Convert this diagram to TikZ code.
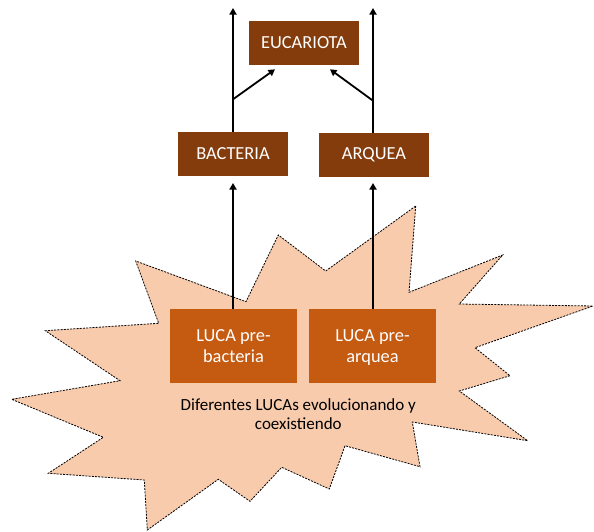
\documentclass[tikz,border=0pt]{standalone}
\usepackage{fontspec}
\setmainfont{Carlito}
\usetikzlibrary{arrows.meta}
\definecolor{darkbrown}{HTML}{843C0C}
\definecolor{lucaorange}{HTML}{C55A11}
\definecolor{burstfill}{HTML}{F8CBAD}
\begin{document}
\begin{tikzpicture}[x=1pt,y=-1pt,
  topbox/.style={fill=darkbrown,text=white,minimum width=110pt,minimum height=44pt,inner sep=0pt,font=\fontsize{18.4}{21.7}\selectfont},
  lucabox/.style={fill=lucaorange,text=white,minimum width=127pt,minimum height=74pt,inner sep=0pt,align=center,font=\fontsize{18.4}{21.7}\selectfont},
  burst/.style={draw=black,line width=0.8pt,dash pattern=on 2pt off 1.2pt,fill=burstfill},
  conn/.style={draw=black,line width=1.8pt,-{Triangle[length=6.5pt,width=7pt]}},
  plain/.style={draw=black,line width=1.8pt}]
\useasboundingbox (0,0) rectangle (594,531);
% starburst
\path[burst] (415.7,206) -- (409,292.3) -- (502.7,255) -- (459.3,304) -- (593,306)
  -- (475,347.7) -- (510,375.7) -- (459.3,391) -- (527.7,440.7) -- (412.3,422)
  -- (420,466.7) -- (345,445.7) -- (329.3,489) -- (281.7,467.3) -- (250,501.3)
  -- (218.3,479.3) -- (147.3,530) -- (144.3,480) -- (48.3,473.3) -- (103.3,437.3)
  -- (11.7,399.3) -- (120,380.7) -- (45.3,330.7) -- (158.7,323.3) -- (135.7,261)
  -- (246,301.7) -- (278.3,235) -- (325.7,271) -- cycle;
% boxes
\node[topbox] (euc) at (304,42.6) {EUCARIOTA};
\node[topbox] (bac) at (233,154) {BACTERIA};
\node[topbox] (arq) at (374,155) {ARQUEA};
\node[lucabox] (lucab) at (233.5,346) {LUCA pre-\\bacteria};
\node[lucabox] (lucaa) at (372.5,346) {LUCA pre-\\\raisebox{0pt}[\height][0pt]{arquea}};
\node[font=\fontsize{17}{19.4}\selectfont,align=center,inner sep=0pt] (txt) at (298.3,414) {Diferentes LUCAs evolucionando y\\coexistiendo};
% coordinates
\coordinate (bup) at (233,8);
\coordinate (aup) at (373,8);
\coordinate (bj) at (233,99.3);
\coordinate (aj) at (373,100.7);
\coordinate (eL) at (275,69.3);
\coordinate (eR) at (330,69.3);
\coordinate (bt) at (233,183);
\coordinate (at) at (373,183);
% connectors
\draw[conn] (bac.north -| bup) -- (bup);
\draw[conn] (arq.north -| aup) -- (aup);
\draw[conn] (bj) -- (eL);
\draw[conn] (aj) -- (eR);
\draw[conn] (lucab.north -| bt) -- (bt);
\draw[conn] (lucaa.north -| at) -- (at);
\end{tikzpicture}
\end{document}
